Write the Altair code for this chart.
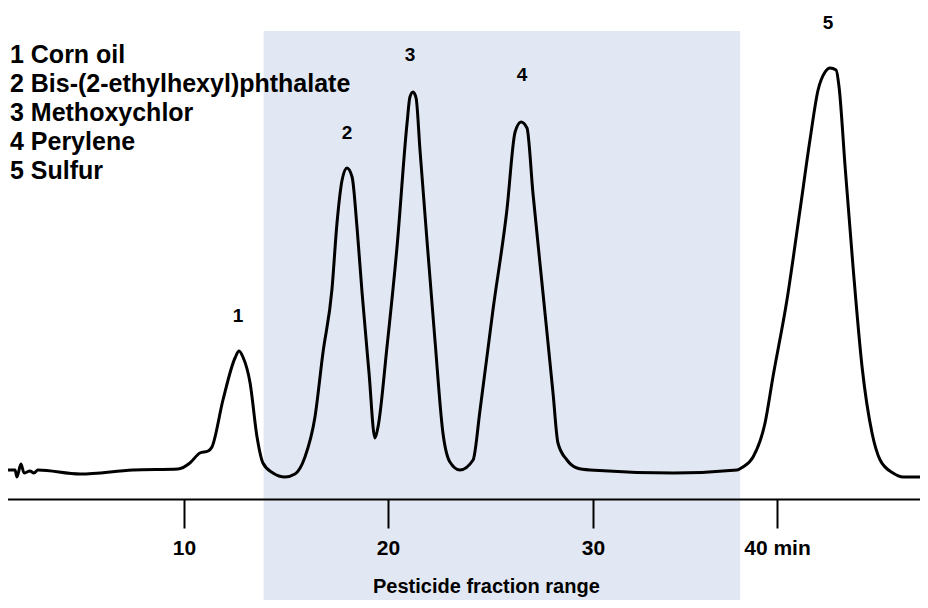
import altair as alt
import pandas as pd

# Chromatogram trace: retention time (min) and detector response (arbitrary units)
time_min = [-0.05, 0.77, 0.87, 1.09, 1.26, 1.58, 1.80, 2.02, 4.32, 7.21, 9.67,
            10.29, 10.78, 11.18, 11.37, 11.91, 12.50, 12.70, 12.89, 13.24, 13.58,
            13.87, 14.36, 14.95, 15.44, 15.93, 16.42, 16.81, 17.25, 17.50, 17.75,
            17.99, 18.24, 18.48, 18.73, 19.07, 19.36, 19.51, 19.95, 20.44, 20.93,
            21.07, 21.22, 21.37, 21.56, 21.90, 22.29, 22.68, 23.02, 23.51, 24.15,
            24.49, 25.12, 25.80, 26.20, 26.49, 26.78, 27.07, 27.56, 28.05, 28.29,
            28.73, 29.22, 29.85, 34.40, 37.83, 38.15, 38.70, 39.35, 39.78, 40.54,
            41.25, 41.79, 42.23, 42.61, 42.88, 43.21, 43.37, 43.70, 44.13, 44.62,
            45.16, 45.60, 46.30, 46.85, 47.99]
signal = [29, 29, 22, 35, 26, 28, 26, 29, 25, 29, 30,
          36, 46, 48, 52, 99, 141, 148, 142, 116, 62,
          36, 26, 22, 25, 42, 82, 146, 209, 276, 319,
          331, 322, 272, 206, 126, 61, 72, 152, 252, 376,
          402, 407, 401, 349, 259, 159, 66, 37, 29, 39,
          89, 189, 289, 367, 377, 371, 306, 206, 106, 56,
          39, 31, 29, 26, 29, 32, 42, 76, 122, 199,
          289, 359, 409, 427, 431, 429, 412, 332, 232, 132,
          66, 39, 26, 22, 22]

# Peak labels
peak_ids = ["1", "2", "3", "4", "5"]
peak_time = [12.65, 17.99, 21.07, 26.54, 42.77]
peak_label_level = [183, 366, 444, 424, 476]

# Compound list
compounds = ["1 Corn oil", "2 Bis-(2-ethylhexyl)phthalate", "3 Methoxychlor",
             "4 Perylene", "5 Sulfur"]
compound_time = [0.49] * 5
compound_level = [436, 407, 378, 349, 320]

# Pesticide fraction range
range_start = [13.9]
range_end = [38.0]
range_top = [468]
range_bottom = [-101]
range_label = ["Pesticide fraction range"]
range_label_time = [24.8]
range_label_level = [-88]

tick_values = [10, 20, 30, 40]

FONT = "Liberation Sans"

x_scale = alt.Scale(domain=[0, 10, 20, 30, 40, 48.2],
                    range=[-7, 176, 380, 585, 769, 920], nice=False, zero=False)
y_scale = alt.Scale(domain=[0, 491], nice=False, zero=False)

trace_df = pd.DataFrame({"t": time_min, "s": signal})
peaks_df = pd.DataFrame({"id": peak_ids, "t": peak_time, "s": peak_label_level})
comp_df = pd.DataFrame({"name": compounds, "t": compound_time, "s": compound_level})
range_df = pd.DataFrame({"t1": range_start, "t2": range_end,
                         "s1": range_top, "s2": range_bottom})
rlabel_df = pd.DataFrame({"txt": range_label, "t": range_label_time, "s": range_label_level})

x_axis = alt.Axis(values=tick_values, tickSize=29, tickWidth=2, tickColor="black",
                  domainColor="black", domainWidth=2, labelFontSize=21,
                  labelFontWeight="bold", labelColor="black", labelFont=FONT,
                  labelPadding=9, title=None, grid=False, labelFlush=False,
                  labelOverlap=False, zindex=1,
                  labelExpr="datum.value == 40 ? '40 min' : datum.label")

shade = alt.Chart(range_df).mark_rect(color="#e2e8f3").encode(
    x=alt.X("t1:Q", scale=x_scale, axis=x_axis),
    x2="t2:Q",
    y=alt.Y("s1:Q", scale=y_scale, axis=None),
    y2="s2:Q",
)

trace = alt.Chart(trace_df).mark_line(color="black", strokeWidth=3,
                                      interpolate="monotone").encode(
    x=alt.X("t:Q", scale=x_scale),
    y=alt.Y("s:Q", scale=y_scale),
)

peak_text = alt.Chart(peaks_df).mark_text(fontSize=19, fontWeight="bold", font=FONT,
                                          color="black", baseline="middle",
                                          align="center").encode(
    x=alt.X("t:Q", scale=x_scale),
    y=alt.Y("s:Q", scale=y_scale),
    text="id:N",
)

comp_text = alt.Chart(comp_df).mark_text(fontSize=25, fontWeight="bold", font=FONT,
                                         color="black", baseline="alphabetic",
                                         align="left").encode(
    x=alt.X("t:Q", scale=x_scale),
    y=alt.Y("s:Q", scale=y_scale),
    text="name:N",
)

range_text = alt.Chart(rlabel_df).mark_text(fontSize=20, fontWeight="bold", font=FONT,
                                            color="black", baseline="middle",
                                            align="center").encode(
    x=alt.X("t:Q", scale=x_scale),
    y=alt.Y("s:Q", scale=y_scale),
    text="txt:N",
)

chart = alt.layer(shade, trace, peak_text, comp_text, range_text).properties(
    width=912, height=491,
    autosize=alt.AutoSizeParams(type="none"),
    padding={"left": 0, "top": 0, "right": 0, "bottom": 101},
    background="white",
).configure_view(stroke=None)

chart.save("out.html", embed_options={"renderer": "svg", "actions": False})
